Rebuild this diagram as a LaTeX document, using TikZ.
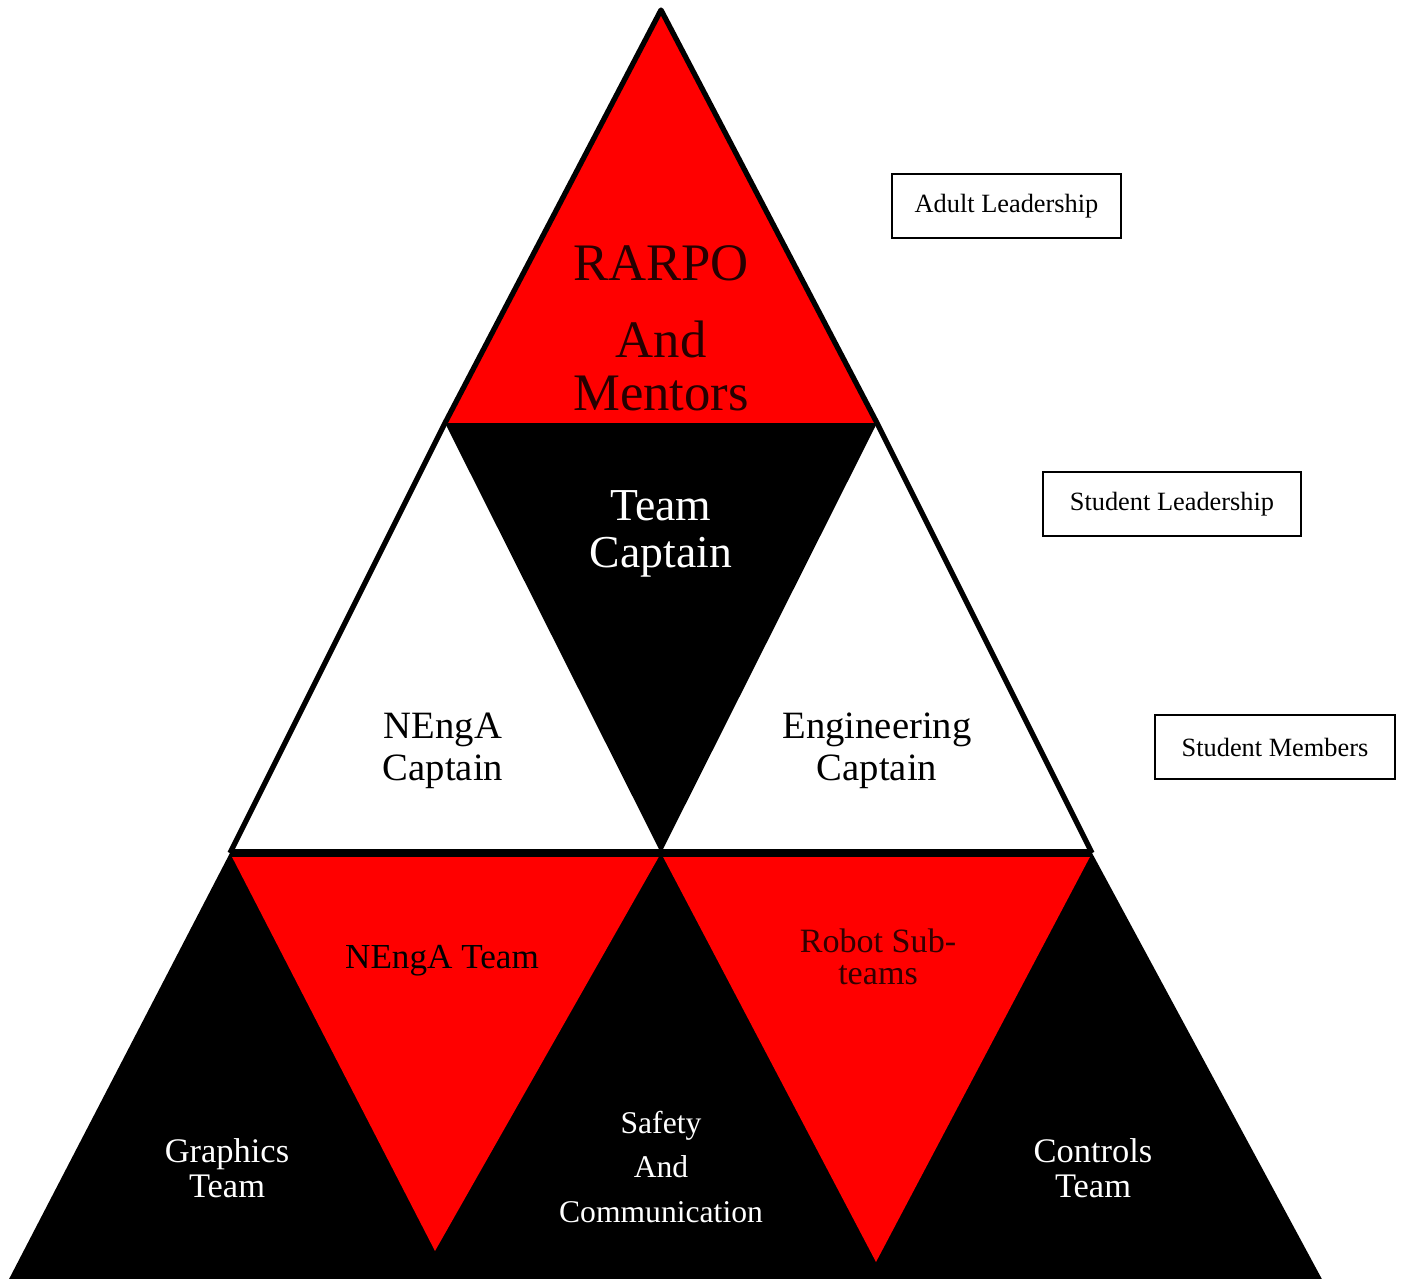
\documentclass[tikz,border=0pt]{standalone}
\usepackage{fontspec}
\setmainfont{Liberation Serif}
\usepackage{tikz}

\definecolor{pyrred}{RGB}{255,0,0}

\begin{document}
\begin{tikzpicture}[auto]
		\tikzstyle{edge line}=[line width=1.5pt, line join=round]
		\tikzstyle{legend}=[rectangle, draw=black, line width=0.8pt, minimum width=2.3cm, minimum height=0.64cm, font=\fontsize{7.5}{9}\selectfont]
		\tikzstyle{label}=[align=center, inner sep=0pt]

		\useasboundingbox (0,0) rectangle (14.03,12.78);

		\coordinate (apex) at (6.61,12.68);
		\coordinate (l1) at (4.45,8.55);
		\coordinate (r1) at (8.77,8.55);
		\coordinate (l2) at (2.30,4.25);
		\coordinate (m2) at (6.61,4.25);
		\coordinate (r2) at (10.92,4.25);
		\coordinate (l3) at (0.07,-0.05);
		\coordinate (r3) at (13.24,-0.05);
		\coordinate (tipa) at (4.35,0.27);
		\coordinate (tipb) at (8.76,0.16);

		\fill[black] (l2) -- (r2) -- (r3) -- (l3) -- cycle;
		\fill[pyrred] (l2) -- (m2) -- (tipa) -- cycle;
		\fill[pyrred] (m2) -- (r2) -- (tipb) -- cycle;
		\fill[black] (l1) -- (r1) -- (m2) -- cycle;
		\fill[pyrred] (apex) -- (l1) -- (r1) -- cycle;
		\draw[edge line] (l2) -- (l1) -- (apex) -- (r1) -- (r2);
		\draw[line width=2pt] (l2) -- (r2);

		\node[label, font=\fontsize{15}{15}\selectfont, text=black!85!red] (rarpo) at (6.61,9.50) {RARPO\\[7pt]And\\Mentors};
		\node[label, font=\fontsize{13}{13.4}\selectfont, text=white] (captain) at (6.61,7.44) {Team\\Captain};
		\node[label, font=\fontsize{11}{12}\selectfont] (nengacap) at (4.43,5.27) {NEngA\\Captain};
		\node[label, font=\fontsize{11}{12}\selectfont] (engcap) at (8.77,5.27) {Engineering\\Captain};
		\node[label, font=\fontsize{10}{11}\selectfont] (nengateam) at (4.42,3.17) {NEngA Team};
		\node[label, font=\fontsize{9.7}{9.2}\selectfont, text=black!80!red] (robot) at (8.78,3.21) {Robot Sub-\\teams};
		\node[label, font=\fontsize{9.8}{10}\selectfont, text=white] (graphics) at (2.27,1.10) {Graphics\\Team};
		\node[label, font=\fontsize{9}{12.7}\selectfont, text=white] (safety) at (6.61,1.11) {Safety\\And\\Communication};
		\node[label, font=\fontsize{9.8}{10}\selectfont, text=white] (controls) at (10.93,1.10) {Controls\\Team};

		\node[legend, minimum width=2.29cm] (adult) at (10.065,10.72) {Adult Leadership};
		\node[legend, minimum width=2.58cm] (studlead) at (11.72,7.74) {Student Leadership};
		\node[legend, minimum width=2.40cm] (studmem) at (12.75,5.31) {Student Members};
	\end{tikzpicture}
\end{document}
